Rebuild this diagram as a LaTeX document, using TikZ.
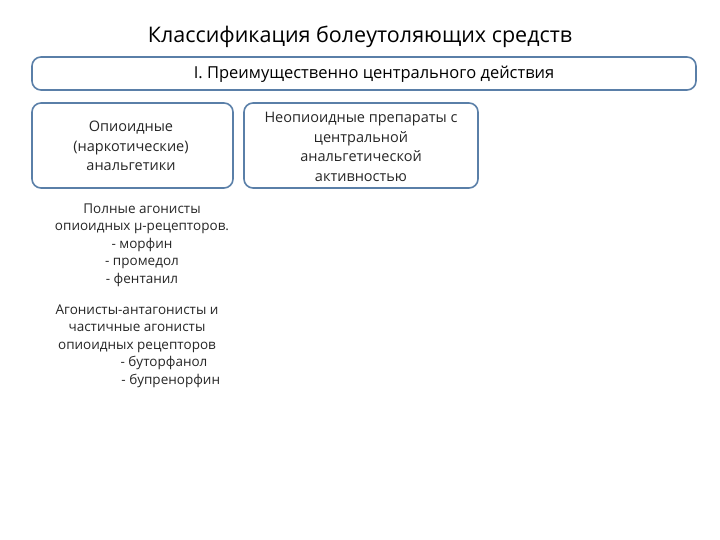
\documentclass[tikz,border=0pt]{standalone}
\usepackage{fontspec}
\setmainfont{Open Sans}
\definecolor{bx}{HTML}{5A7FA8}
\begin{document}
\begin{tikzpicture}[x=1pt,y=-1pt,
 box/.style={draw=bx,line width=1.6pt,rounded corners=9pt},
 txt/.style={align=center,font=\fontsize{14.5}{19.5}\selectfont,text=black!85}]
\useasboundingbox (0,0) rectangle (720,540);
\node[font=\fontsize{21.5}{24}\selectfont] (title) at (360,37) {Классификация болеутоляющих средств};
\draw[box] (32,57) rectangle (696,90);
\node[font=\fontsize{16.5}{18}\selectfont] (top) at (374,74) {I. Преимущественно центрального действия};
\draw[box] (32,103) rectangle (233,188);
\node[txt] (opi) at (131,146) {Опиоидные\\(наркотические)\\анальгетики};
\draw[box] (244,103) rectangle (478,188);
\node[txt] (neo) at (361,147) {Неопиоидные препараты с\\центральной\\анальгетической\\активностью};
\node[txt,font=\fontsize{13.5}{17.5}\selectfont] (full) at (142,245) {Полные агонисты\\опиоидных μ-рецепторов.\\- морфин\\- промедол\\- фентанил};
\node[txt,font=\fontsize{13.5}{17.5}\selectfont] (ag) at (137,346) {Агонисты-антагонисты и\\частичные агонисты\\опиоидных рецепторов\\\hspace*{4em}- буторфанол\\\hspace*{5em}- бупренорфин};
\end{tikzpicture}
\end{document}
